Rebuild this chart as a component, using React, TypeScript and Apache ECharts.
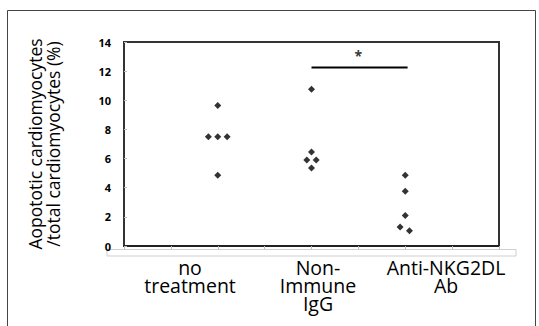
import React, { useEffect, useRef } from "react";
import * as echarts from "echarts";

const categories = ["no\ntreatment", "Non-\nImmune\nIgG", "Anti-NKG2DL\nAb"];
const yTicks = [0, 2, 4, 6, 8, 10, 12, 14];

const noTreatmentX = [2, 1.8, 2, 2.2, 2];
const noTreatmentY = [9.65, 7.5, 7.5, 7.5, 4.85];
const nonImmuneX = [4, 4, 3.9, 4.1, 4];
const nonImmuneY = [10.75, 6.45, 5.9, 5.9, 5.35];
const antiX = [6, 6, 6, 5.89, 6.09];
const antiY = [4.85, 3.75, 2.1, 1.3, 1.05];

const sigLineX = [4, 6.05];
const sigLineY = 12.25;
const starPos = [5, 13.1];

export default function App() {
  const ref = useRef<HTMLDivElement>(null);
  useEffect(() => {
    if (!ref.current) return;
    const chart = echarts.init(ref.current, undefined, { renderer: "svg" });
    const pts = (xs: number[], ys: number[]) => xs.map((x, i) => [x, ys[i]]);
    const scatterStyle = {
      type: "scatter",
      xAxisIndex: 0,
      yAxisIndex: 0,
      symbol: "diamond",
      symbolSize: [7, 7],
      itemStyle: { color: "#000" },
      silent: true,
    };
    chart.setOption({
      animation: false,
      backgroundColor: "#fff",
      grid: [
        {
          left: 124,
          top: 42,
          width: 375,
          height: 204,
          show: true,
          borderColor: "#333",
          borderWidth: 2,
          backgroundColor: "transparent",
        },
        { left: 126, top: 250, width: 384, height: 1, show: false },
      ],
      xAxis: [
        {
          type: "value",
          gridIndex: 0,
          min: 0,
          max: 8,
          interval: 1,
          axisLine: { show: true, onZero: false, lineStyle: { color: "#222", width: 2 } },
          axisTick: { show: true, inside: false, length: 3, lineStyle: { color: "#bbb" } },
          axisLabel: { show: false },
          splitLine: { show: false },
        },
        {
          type: "category",
          gridIndex: 1,
          data: categories,
          axisLine: { show: false },
          axisTick: { show: false },
          axisLabel: {
            show: true,
            interval: 0,
            margin: 7,
            color: "#000",
            fontFamily: "Open Sans",
            fontSize: 19.5,
            lineHeight: 18,
            align: "center",
          },
        },
      ],
      yAxis: [
        {
          type: "value",
          gridIndex: 0,
          min: 0,
          max: 14,
          interval: 2,
          name: "Aopototic cardiomyocytes\n/total cardiomyocytes (%)",
          nameLocation: "middle",
          nameRotate: 90,
          nameGap: 62,
          nameTextStyle: {
            color: "#000",
            fontFamily: "Open Sans",
            fontSize: 17.5,
            lineHeight: 18,
          },
          axisLine: { show: true, lineStyle: { color: "#333", width: 2 } },
          axisTick: { show: true, inside: true, length: 3, lineStyle: { color: "#bbb" } },
          axisLabel: {
            color: "#000",
            fontFamily: "Noto Sans",
            fontWeight: "bold",
            fontSize: 11,
            margin: 13,
            formatter: (v: number) => (yTicks.includes(v) ? String(v) : ""),
          },
          splitLine: { show: false },
        },
        { type: "value", gridIndex: 1, show: false },
      ],
      graphic: [
        {
          type: "rect",
          shape: { x: 7.5, y: 10.5, width: 528, height: 340 },
          style: { fill: "none", stroke: "#444", lineWidth: 1 },
          z: -1,
        },
        {
          type: "rect",
          shape: { x: 107, y: 249.5, width: 409, height: 6.5 },
          style: { fill: "none", stroke: "#cfcfcf", lineWidth: 1 },
          z: -1,
        },
      ],
      series: [
        { ...scatterStyle, name: "no treatment", data: pts(noTreatmentX, noTreatmentY) },
        { ...scatterStyle, name: "Non-Immune IgG", data: pts(nonImmuneX, nonImmuneY) },
        { ...scatterStyle, name: "Anti-NKG2DL Ab", data: pts(antiX, antiY) },
        {
          type: "line",
          xAxisIndex: 0,
          yAxisIndex: 0,
          data: sigLineX.map((x) => [x, sigLineY]),
          symbol: "none",
          lineStyle: { color: "#000", width: 2 },
          silent: true,
        },
        {
          type: "scatter",
          xAxisIndex: 0,
          yAxisIndex: 0,
          data: [starPos],
          symbolSize: 0,
          silent: true,
          label: {
            show: true,
            position: "inside",
            formatter: "*",
            color: "#000",
            fontFamily: "Noto Sans",
            fontWeight: "bold",
            fontSize: 14,
          },
        },
      ],
    });
    return () => chart.dispose();
  }, []);
  return (
    <div
      ref={ref}
      style={{ position: "fixed", left: 0, top: 0, width: 539, height: 326 }}
    />
  );
}
